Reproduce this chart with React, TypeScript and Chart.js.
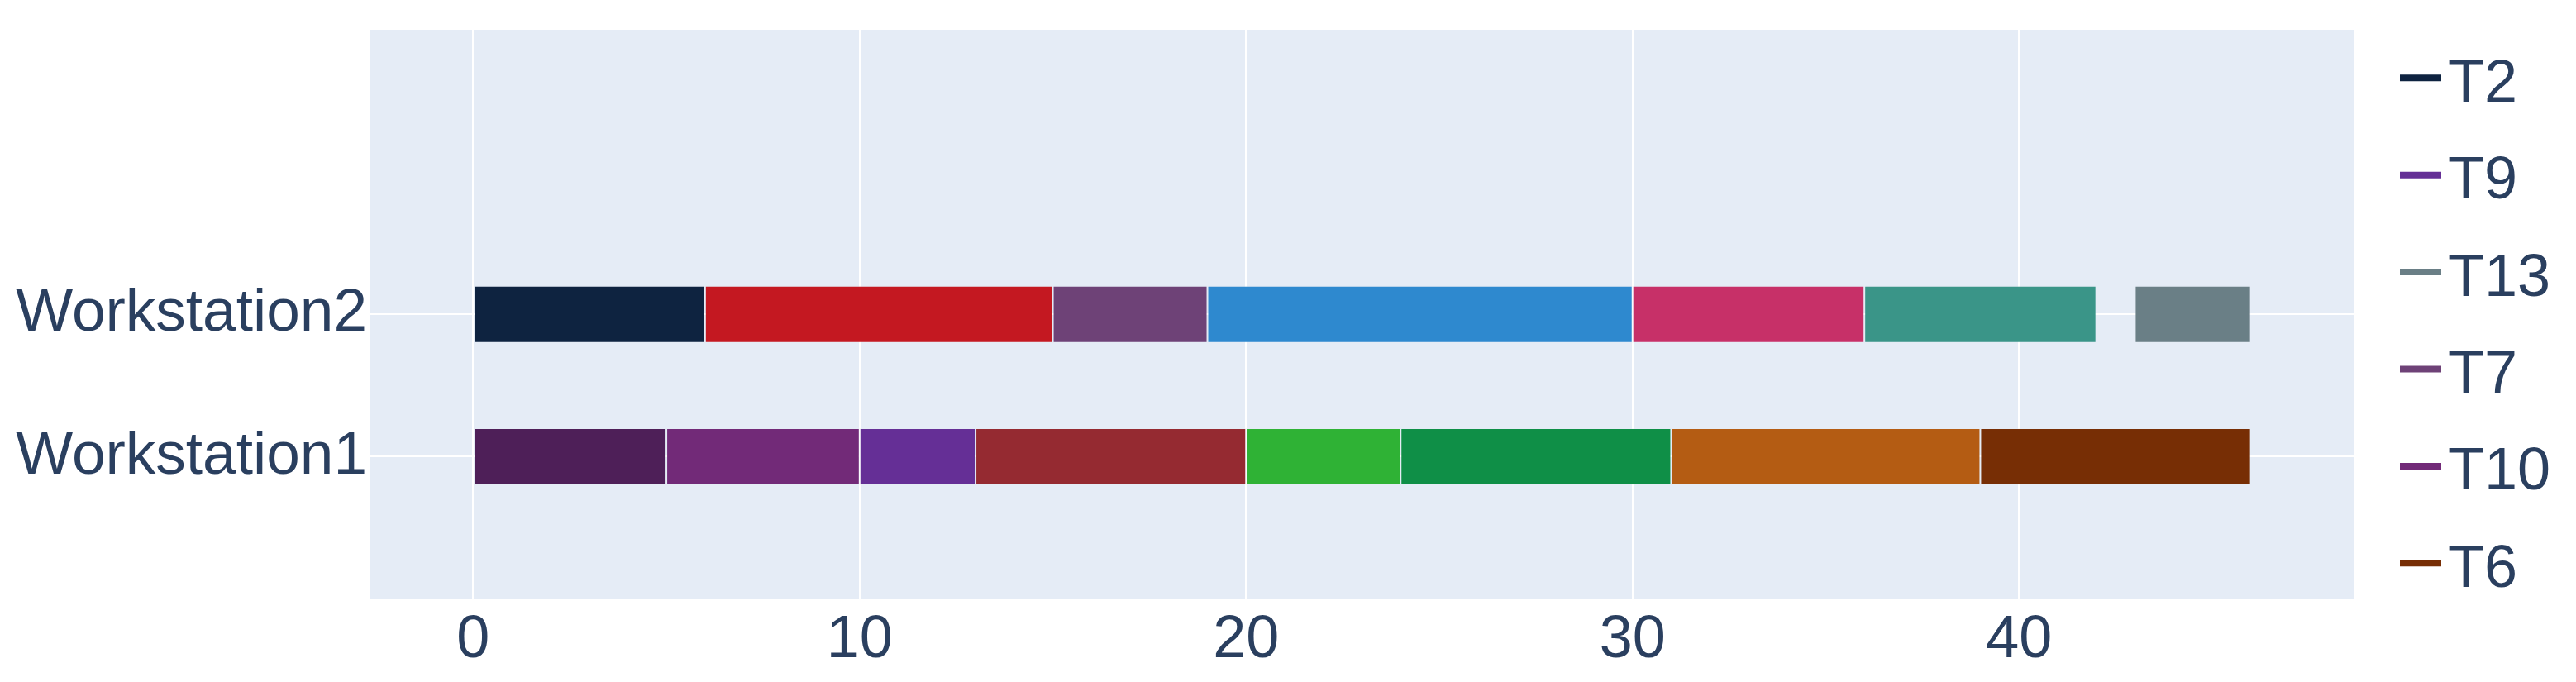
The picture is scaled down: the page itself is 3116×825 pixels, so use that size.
import React, { useEffect, useRef } from 'react';
import { Chart, registerables } from 'chart.js';

Chart.register(...registerables);

// Category rows (top to bottom); empty rows are padding bands of the axis range
const yTickLabels = ['', '', 'Workstation2', 'Workstation1', ''];

// Tasks (legend order first)
const taskNames = ['T2', 'T9', 'T13', 'T7', 'T10', 'T6', 'T1', 'T3', 'T4', 'T5', 'T8', 'T11', 'T12', 'T14', 'T15'];
const taskStations = [
  'Workstation2', 'Workstation1', 'Workstation2', 'Workstation2', 'Workstation1', 'Workstation1',
  'Workstation1', 'Workstation2', 'Workstation1', 'Workstation2', 'Workstation1', 'Workstation2',
  'Workstation1', 'Workstation2', 'Workstation1',
];
const taskStarts = [0, 10, 43, 15, 5, 39, 0, 6, 13, 19, 20, 30, 24, 36, 31];
const taskEnds = [6, 13, 46, 19, 10, 46, 5, 15, 20, 30, 24, 36, 31, 42, 39];
const taskColors = [
  '#0e2340', '#652f96', '#6a7f86', '#6e4277', '#722a78', '#772e05',
  '#4e1f58', '#c41821', '#952a31', '#2e89cf', '#2fb235', '#c73068',
  '#0f8f47', '#3a9588', '#b45c13',
];
const legendCount = 6;

// X axis
const xMin = -2.66;
const xMax = 48.66;
const xStep = 10;

const FONT = '"Liberation Sans", Arial, sans-serif';
const TEXT_COLOR = '#2a3f5f';
const PLOT_BG = '#E5ECF6';

export default function App() {
  const ref = useRef<HTMLCanvasElement | null>(null);

  useEffect(() => {
    if (!ref.current) return;

    const datasets = taskNames.map((name, i) => ({
      label: name,
      data: [{ x: [taskStarts[i], taskEnds[i]], y: taskStations[i] }],
      backgroundColor: taskColors[i],
      borderColor: 'rgba(229,236,246,0.3)',
      borderWidth: 1,
      borderSkipped: false,
      grouped: false,
      categoryPercentage: 1,
      barPercentage: 0.4,
    }));

    const bgPlugin = {
      id: 'plotBg',
      beforeDraw(chart: any) {
        const { ctx, chartArea } = chart;
        ctx.save();
        ctx.fillStyle = PLOT_BG;
        ctx.fillRect(chartArea.left, chartArea.top, chartArea.right - chartArea.left, chartArea.bottom - chartArea.top);
        ctx.restore();
      },
    };

    const legendPlugin = {
      id: 'lineLegend',
      afterDraw(chart: any) {
        const { ctx, chartArea } = chart;
        const x0 = chartArea.right + 56;
        const lineW = 50;
        const y0 = chartArea.top + 58.3;
        const step = 117.4;
        ctx.save();
        chart.data.datasets.slice(0, legendCount).forEach((ds: any, i: number) => {
          const y = y0 + i * step;
          ctx.strokeStyle = ds.backgroundColor;
          ctx.lineWidth = 8;
          ctx.lineCap = 'butt';
          ctx.beginPath();
          ctx.moveTo(x0, y);
          ctx.lineTo(x0 + lineW, y);
          ctx.stroke();
          ctx.fillStyle = TEXT_COLOR;
          ctx.font = `72px ${FONT}`;
          ctx.textAlign = 'left';
          ctx.textBaseline = 'alphabetic';
          ctx.fillText(ds.label, x0 + lineW + 8, y + 28.5);
        });
        ctx.restore();
      },
    };

    const chart = new Chart(ref.current, {
      type: 'bar',
      data: { labels: yTickLabels, datasets: datasets as any },
      options: {
        indexAxis: 'y',
        animation: false,
        responsive: false,
        maintainAspectRatio: false,
        layout: { autoPadding: false, padding: { top: 28, right: 261, bottom: 0, left: 0 } },
        plugins: {
          legend: { display: false },
          tooltip: { enabled: false },
        },
        scales: {
          x: {
            type: 'linear',
            min: xMin,
            max: xMax,
            border: { display: false },
            grid: { color: '#ffffff', lineWidth: 2, drawTicks: false },
            ticks: {
              stepSize: xStep,
              includeBounds: false,
              color: TEXT_COLOR,
              font: { family: FONT, size: 72, lineHeight: 1 },
              padding: 15,
              maxRotation: 0,
            },
            afterFit(scale: any) {
              scale.height = 92.5;
              scale.paddingLeft = 0;
              scale.paddingRight = 0;
              scale.paddingTop = 0;
              scale.paddingBottom = 0;
            },
          },
          y: {
            type: 'category',
            labels: yTickLabels,
            offset: false,
            border: { display: false },
            grid: {
              offset: false,
              drawTicks: false,
              lineWidth: 2,
              color: (c: any) => (c.tick && c.tick.label ? '#ffffff' : 'rgba(0,0,0,0)'),
            },
            ticks: {
              autoSkip: false,
              color: TEXT_COLOR,
              font: { family: FONT, size: 73, lineHeight: 1 },
              padding: 4,
            },
            afterFit(scale: any) {
              scale.width = 440;
              scale.paddingLeft = 0;
              scale.paddingRight = 0;
              scale.paddingTop = 0;
              scale.paddingBottom = 0;
            },
          },
        },
      },
      plugins: [bgPlugin, legendPlugin],
    });

    return () => chart.destroy();
  }, []);

  return (
    <div style={{ width: 3100, height: 809 }}>
      <canvas ref={ref} width={3100} height={809} style={{ display: 'block' }} />
    </div>
  );
}
